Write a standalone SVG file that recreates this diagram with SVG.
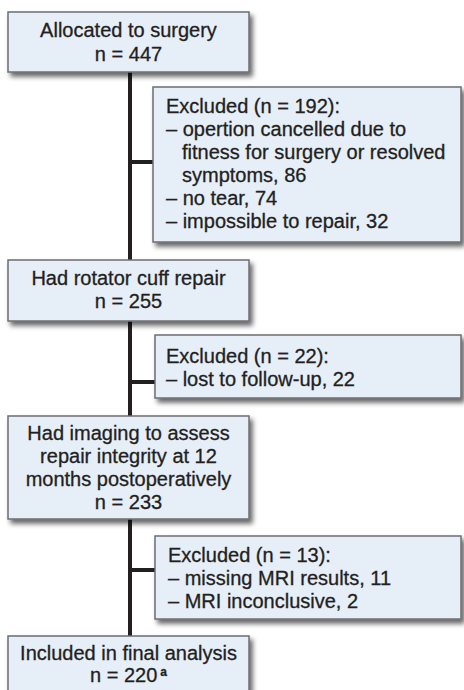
<svg xmlns="http://www.w3.org/2000/svg" width="464" height="690" viewBox="0 0 464 690">
<style>
.box{fill:#e6eef8;stroke:#6d6e70;stroke-width:1.5;filter:url(#sh)}
text{font-family:"Liberation Sans",Arial,sans-serif;font-size:20px;fill:#231f20;stroke:#231f20;stroke-width:0.3}
.c{text-anchor:middle}
.conn{stroke:#231f20;stroke-width:4;fill:none}
.sup{font-size:12px;font-weight:bold}
</style>
<defs>
<filter id="sh" x="-10%" y="-10%" width="130%" height="140%">
<feGaussianBlur in="SourceAlpha" stdDeviation="2.5"/>
<feOffset dx="3" dy="4" result="b"/>
<feComponentTransfer><feFuncA type="linear" slope="0.6"/></feComponentTransfer>
<feMerge><feMergeNode/><feMergeNode in="SourceGraphic"/></feMerge>
</filter>
</defs>
<g id="connectors">
<line class="conn" x1="130" y1="72" x2="130" y2="636"/>
<line class="conn" x1="130" y1="162" x2="154" y2="162"/>
<line class="conn" x1="130" y1="382" x2="156" y2="382"/>
<line class="conn" x1="130" y1="570" x2="156" y2="570"/>
</g>
<g id="allocated">
<rect class="box" x="8" y="12" width="241" height="60"/>
<text class="c" x="128.5" y="37">Allocated to surgery</text>
<text class="c" x="128.5" y="61">n = 447</text>
</g>
<g id="excluded1">
<rect class="box" x="153" y="87" width="308" height="155"/>
<text x="166" y="113">Excluded (n = 192):</text>
<text x="166" y="136">– opertion cancelled due to</text>
<text x="182" y="159">fitness for surgery or resolved</text>
<text x="182" y="182">symptoms, 86</text>
<text x="166" y="205">– no tear, 74</text>
<text x="166" y="228">– impossible to repair, 32</text>
</g>
<g id="repair">
<rect class="box" x="8" y="260" width="241" height="61"/>
<text class="c" x="128.5" y="285">Had rotator cuff repair</text>
<text class="c" x="128.5" y="308">n = 255</text>
</g>
<g id="excluded2">
<rect class="box" x="155" y="335" width="306" height="63"/>
<text x="166" y="363">Excluded (n = 22):</text>
<text x="166" y="386">– lost to follow-up, 22</text>
</g>
<g id="imaging">
<rect class="box" x="8" y="416" width="241" height="103"/>
<text class="c" x="128.5" y="440">Had imaging to assess</text>
<text class="c" x="128.5" y="463">repair integrity at 12</text>
<text class="c" x="128.5" y="486">months postoperatively</text>
<text class="c" x="128.5" y="509">n = 233</text>
</g>
<g id="excluded3">
<rect class="box" x="155" y="536" width="306" height="83"/>
<text x="168" y="562">Excluded (n = 13):</text>
<text x="168" y="585">– missing MRI results, 11</text>
<text x="168" y="608">– MRI inconclusive, 2</text>
</g>
<g id="included">
<rect class="box" x="8" y="636" width="241" height="70"/>
<text class="c" x="128.5" y="660">Included in final analysis</text>
<text class="c" x="128.5" y="682">n = 220<tspan class="sup" dx="3" dy="-6">a</tspan></text>
</g>
</svg>
